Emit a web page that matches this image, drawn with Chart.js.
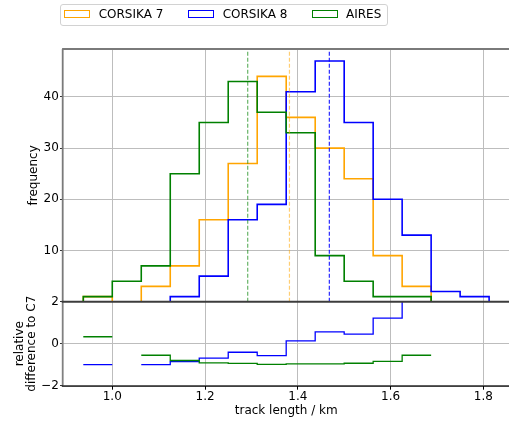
<!DOCTYPE html>
<html>
<head>
<meta charset="utf-8">
<script src="https://cdn.jsdelivr.net/npm/chart.js@4.4.1/dist/chart.umd.min.js"></script>
<style>
  html, body { margin: 0; padding: 0; background: #fff; overflow: hidden; width: 509px; height: 423px; }
  #wrap { position: relative; width: 509px; height: 423px; overflow: hidden; }
  #wrap canvas { position: absolute; left: 0; top: 0; }
  .legend-frame { position: absolute; left: 60px; top: 4px; width: 326px; height: 20px;
                  border: 1px solid #d2d2d2; border-radius: 3px; background: rgba(255,255,255,0.8); }
  .swatch { position: absolute; top: 10px; height: 8px; box-sizing: border-box; border: 1.6px solid; z-index: 2; }
  .label { position: absolute; top: 7px; font: 12px/14px 'DejaVu Sans'; color: #000; white-space: nowrap; z-index: 2; }
</style>
</head>
<body>
<div id="wrap">
  <canvas id="top" width="520" height="423"></canvas>
  <canvas id="bottom" width="520" height="423"></canvas>
  <div class="legend-frame"></div>
</div>
<script>
// Histogram bin edges (track length in km)
const edges = [0.9375, 1.0, 1.0625, 1.125, 1.1875, 1.25, 1.3125, 1.375,
               1.4375, 1.5, 1.5625, 1.625, 1.6875, 1.75, 1.8125];

// Counts per bin for each simulation code
const countsC7    = [1, 0, 3, 7, 16, 27, 44, 36, 30, 24, 9, 3, 0, 0];
const countsC8    = [0, 0, 0, 1, 5, 16, 19, 41, 47, 35, 20, 13, 2, 1];
const countsAires = [1, 4, 7, 25, 35, 43, 37, 33, 9, 4, 1, 1, 0, 0];

// Mean track length of each sample
const meanC7 = 1.382;
const meanC8 = 1.468;
const meanAires = 1.292;

// Relative difference to CORSIKA 7 per bin (null where C7 is empty)
const relDiffC8    = [-1, null, -1, -0.857, -0.6875, -0.407, -0.568, 0.139, 0.567, 0.458, 1.222, 3.333, null, null];
const relDiffAires = [0.33, null, -0.55, -0.80, -0.91, -0.94, -0.98, -0.96, -0.96, -0.93, -0.84, -0.55, null, null];

// Series names and tick labels
const seriesNames = ['CORSIKA 7', 'CORSIKA 8', 'AIRES'];
const xTicks = [1.0, 1.2, 1.4, 1.6, 1.8];
const xTickLabels = ['1.0', '1.2', '1.4', '1.6', '1.8'];
const freqTicks = [10, 20, 30, 40];
const freqTickLabels = ['10', '20', '30', '40'];
const relTicks = [-2, 0, 2];
const relTickLabels = ['\u22122', '0', '2'];

// ---- styling ----
const colors = ['#ffa500', '#0000ff', '#008000'];
const meanColors = ['rgba(255,165,0,0.55)', 'rgba(0,0,255,0.85)', 'rgba(0,128,0,0.6)'];
const FONT = "'DejaVu Sans'";
const GRID = '#bdbdbd';
const X_MIN = 0.89375, X_MAX = 1.85625;
const FREQ_MAX = 49.35;

Chart.defaults.font.family = FONT;
Chart.defaults.font.size = 12;
Chart.defaults.color = '#000';

// Legend
(function buildLegend() {
  const wrap = document.getElementById('wrap');
  const swatchX = [64, 188, 312];
  const labelX = [98.7, 222.7, 346];
  seriesNames.forEach((name, i) => {
    const sw = document.createElement('div');
    sw.className = 'swatch';
    sw.style.left = swatchX[i] + 'px';
    sw.style.width = '26px';
    sw.style.borderColor = colors[i];
    wrap.appendChild(sw);
    const lb = document.createElement('div');
    lb.className = 'label';
    lb.style.left = labelX[i] + 'px';
    lb.textContent = name;
    wrap.appendChild(lb);
  });
})();

// Step outline of a histogram (closed down to zero at both ends)
function histPoints(values) {
  const pts = [{ x: edges[0], y: 0 }];
  values.forEach((v, i) => pts.push({ x: edges[i], y: v }));
  pts.push({ x: edges[edges.length - 1], y: values[values.length - 1] });
  pts.push({ x: edges[edges.length - 1], y: 0 });
  return pts;
}

// Stairs with gaps where the value is undefined
function stairPoints(values) {
  const pts = [];
  values.forEach((v, i) => {
    if (v === null) { pts.push({ x: edges[i], y: null }); return; }
    pts.push({ x: edges[i], y: v });
    const next = values[i + 1];
    if (next === null || next === undefined) pts.push({ x: edges[i + 1], y: v });
  });
  return pts;
}

function fixedTicks(list) {
  return (scale) => { scale.ticks = list.map(v => ({ value: v })); };
}
function labelFor(list, labels) {
  return (value) => { const i = list.indexOf(value); return i >= 0 ? labels[i] : ''; };
}

// 'before' = horizontal run first, then the vertical step at the next edge
const stepLine = (data, color, order, width) => ({
  data, borderColor: color, backgroundColor: 'transparent', borderWidth: width,
  stepped: 'before', pointRadius: 0, fill: false, tension: 0, order
});
const meanLine = (x, color) => ({
  data: [{ x, y: 0 }, { x, y: FREQ_MAX }], borderColor: color, borderWidth: 1.2,
  borderDash: [4, 2], pointRadius: 0, fill: false, order: 0
});

// Axis frame lines drawn over the data
const topFrame = {
  id: 'topFrame',
  afterDatasetsDraw(chart) {
    const { ctx, chartArea: a } = chart;
    ctx.save();
    ctx.strokeStyle = '#7a7a7a';
    ctx.lineWidth = 1.8;
    ctx.beginPath();
    ctx.moveTo(a.left - 0.9, a.top); ctx.lineTo(a.right, a.top);
    ctx.moveTo(a.left - 0.3, a.top); ctx.lineTo(a.left - 0.3, a.bottom);
    ctx.stroke();
    ctx.restore();
  }
};
const bottomFrame = {
  id: 'bottomFrame',
  afterDatasetsDraw(chart) {
    const { ctx, chartArea: a } = chart;
    ctx.save();
    ctx.strokeStyle = '#808080';
    ctx.lineWidth = 1.8;
    ctx.beginPath();
    ctx.moveTo(a.left - 0.3, a.top); ctx.lineTo(a.left - 0.3, a.bottom);
    ctx.stroke();
    ctx.strokeStyle = '#3c3c3c';
    ctx.lineWidth = 2;
    ctx.beginPath();
    ctx.moveTo(a.left - 1.2, a.top); ctx.lineTo(a.right, a.top);
    ctx.stroke();
    ctx.strokeStyle = '#000';
    ctx.lineWidth = 1.2;
    ctx.beginPath();
    ctx.moveTo(a.left - 1.2, a.bottom + 0.5); ctx.lineTo(a.right, a.bottom + 0.5);
    ctx.stroke();
    ctx.restore();
  }
};

// Upper panel: frequency histograms
new Chart(document.getElementById('top'), {
  type: 'line',
  data: {
    datasets: [
      meanLine(meanC7, meanColors[0]),
      meanLine(meanC8, meanColors[1]),
      meanLine(meanAires, meanColors[2]),
      stepLine(histPoints(countsAires), colors[2], 1, 1.6),
      stepLine(histPoints(countsC8), colors[1], 2, 1.6),
      stepLine(histPoints(countsC7), colors[0], 3, 1.6)
    ]
  },
  options: {
    responsive: false, animation: false, devicePixelRatio: 1,
    layout: { padding: { top: 49, right: 10.6, bottom: 121.3, left: 0 } },
    plugins: { legend: { display: false }, tooltip: { enabled: false } },
    scales: {
      x: {
        type: 'linear', min: X_MIN, max: X_MAX,
        afterBuildTicks: fixedTicks(xTicks),
        afterFit: (s) => { s.height = 0; },
        ticks: { display: false },
        grid: { color: GRID, lineWidth: 1, drawTicks: false },
        border: { display: false }
      },
      y: {
        type: 'linear', min: 0, max: FREQ_MAX,
        afterBuildTicks: fixedTicks(freqTicks),
        afterFit: (s) => { s.width = 63; },
        ticks: { callback: labelFor(freqTicks, freqTickLabels), padding: 1.2,
                 font: { size: 12 }, color: '#000' },
        grid: { color: GRID, lineWidth: 1, tickLength: 3, tickColor: '#333' },
        border: { display: false },
        title: { display: true, text: 'frequency', color: '#000',
                 font: { size: 12, lineHeight: 1.2 }, padding: { top: 26.7, bottom: 0 } }
      }
    }
  },
  plugins: [topFrame]
});

// Lower panel: relative difference to CORSIKA 7
new Chart(document.getElementById('bottom'), {
  type: 'line',
  data: {
    datasets: [
      stepLine(stairPoints(relDiffAires), colors[2], 1, 1.3),
      stepLine(stairPoints(relDiffC8), colors[1], 2, 1.3)
    ]
  },
  options: {
    responsive: false, animation: false, devicePixelRatio: 1,
    spanGaps: false,
    layout: { padding: { top: 301.7, right: 10.6, bottom: 0, left: 0 } },
    plugins: { legend: { display: false }, tooltip: { enabled: false } },
    scales: {
      x: {
        type: 'linear', min: X_MIN, max: X_MAX,
        afterBuildTicks: fixedTicks(xTicks),
        afterFit: (s) => { s.height = 37.3; },
        ticks: { callback: labelFor(xTicks, xTickLabels), padding: 1, maxRotation: 0,
                 font: { size: 12, lineHeight: 1.0 }, color: '#000' },
        grid: { color: GRID, lineWidth: 1, tickLength: 4, tickColor: '#000' },
        border: { display: false },
        title: { display: true, text: 'track length / km', color: '#000',
                 font: { size: 12, lineHeight: 1.2 }, padding: { top: 0, bottom: 4.6 } }
      },
      y: {
        type: 'linear', min: -2, max: 2,
        afterBuildTicks: fixedTicks(relTicks),
        afterFit: (s) => { s.width = 63; },
        ticks: { callback: labelFor(relTicks, relTickLabels), padding: 1.2,
                 font: { size: 12 }, color: '#000' },
        grid: { color: GRID, lineWidth: 1, tickLength: 3, tickColor: '#333' },
        border: { display: false },
        title: { display: true, text: ['relative', 'difference to C7'], color: '#000',
                 font: { size: 12, lineHeight: 1.075 }, padding: { top: 12.95, bottom: 0 } }
      }
    }
  },
  plugins: [bottomFrame]
});
</script>
</body>
</html>
